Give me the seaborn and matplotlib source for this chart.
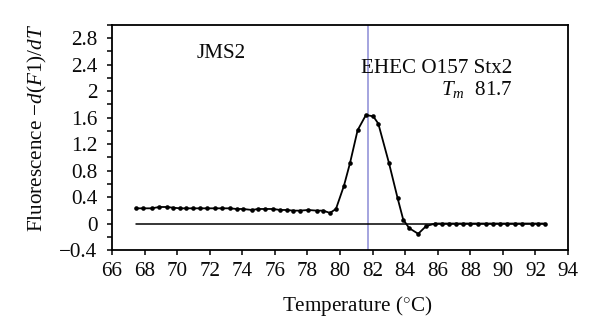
import matplotlib
matplotlib.use("Agg")
import matplotlib.pyplot as plt
import seaborn as sns
import pandas as pd

# Melting-curve derivative for the JMS2 sample (EHEC O157 Stx2 amplicon)
temperature = [
    67.45, 67.92, 68.44, 68.90, 69.36, 69.72, 70.17, 70.54, 70.99, 71.40,
    71.81, 72.32, 72.73, 73.24, 73.65, 74.06, 74.58, 74.98, 75.39, 75.90,
    76.31, 76.72, 77.13, 77.54, 78.05, 78.57, 78.97, 79.38, 79.75, 80.24,
    80.61, 81.08, 81.59, 82.04, 82.35, 83.00, 83.54, 83.88, 84.25, 84.80,
    85.28, 85.83, 86.24, 86.71, 87.12, 87.53, 87.98, 88.49, 88.96, 89.41,
    89.82, 90.27, 90.74, 91.15, 91.76, 92.17, 92.58,
]
neg_dF_dT = [
    0.23, 0.23, 0.23, 0.25, 0.25, 0.24, 0.23, 0.23, 0.23, 0.23,
    0.23, 0.23, 0.23, 0.23, 0.22, 0.22, 0.205, 0.22, 0.22, 0.22,
    0.205, 0.205, 0.195, 0.195, 0.205, 0.195, 0.195, 0.16, 0.22, 0.57,
    0.91, 1.41, 1.64, 1.62, 1.51, 0.92, 0.38, 0.06, -0.07, -0.155,
    -0.04, 0.0, 0.0, 0.0, 0.0, 0.0, 0.0, 0.0, 0.0, 0.0,
    0.0, 0.0, 0.0, 0.0, 0.0, 0.0, 0.0,
]
tm_value = 81.7
sample_name = "JMS2"
target_name = "EHEC O157 Stx2"

x_ticks = list(range(66, 95, 2))
y_major = [-0.4, 0, 0.4, 0.8, 1.2, 1.6, 2, 2.4, 2.8]
y_minor = [-0.2, 0.2, 0.6, 1.0, 1.4, 1.8, 2.2, 2.6, 3.0]

sns.set_style("ticks")
plt.rcParams["font.family"] = ["Liberation Serif", "DejaVu Serif"]
plt.rcParams["mathtext.fontset"] = "custom"
plt.rcParams["mathtext.rm"] = "Liberation Serif"
plt.rcParams["mathtext.it"] = "Liberation Serif:italic"
plt.rcParams["mathtext.bf"] = "Liberation Serif:bold"

FS = 15.2
INK = "#0a0a0a"

df = pd.DataFrame({"T": temperature, "d": neg_dF_dT})
base = pd.DataFrame({"T": [temperature[0], temperature[-1]], "d": [0.0, 0.0]})

fig = plt.figure(figsize=(6.0, 3.35), dpi=100)
ax = fig.add_axes([0.1867, 0.2537, 0.76, 0.6717])

ax.axvline(tm_value, color="#8c8cd6", linewidth=1.1, zorder=1)
sns.lineplot(data=base, x="T", y="d", ax=ax, color="black", linewidth=1.1, zorder=2)
sns.lineplot(data=df, x="T", y="d", ax=ax, color="black", linewidth=1.3,
             marker="o", markersize=3.3, markeredgewidth=0, zorder=3)

ax.set_xlim(66, 94)
ax.set_ylim(-0.4, 3.0)
ax.set_xticks(x_ticks)
ax.set_xticklabels([str(t) for t in x_ticks])
ax.set_yticks(y_major)
ax.set_yticklabels(["\u22120.4", "0", "0.4", "0.8", "1.2", "1.6", "2", "2.4", "2.8"])
ax.set_yticks(y_minor, minor=True)

ax.tick_params(axis="both", which="both", direction="out", length=3.5, width=1.1,
               color="black", labelsize=FS, labelcolor=INK)
ax.tick_params(axis="y", which="major", pad=7)
ax.tick_params(axis="x", which="major", pad=5)

for side in ["top", "right", "bottom", "left"]:
    ax.spines[side].set_visible(True)
    ax.spines[side].set_color("black")
    ax.spines[side].set_linewidth(1.3)

ax.set_xlabel("Temperature ($^{\\circ}$C)", fontsize=FS, color=INK)
ax.set_ylabel("Fluorescence $-d(F1)/dT$", fontsize=FS, color=INK)
ax.xaxis.set_label_coords(0.538, -0.195)
ax.yaxis.set_label_coords(-0.139, 0.544)

ax.text(71.2, 2.57, sample_name, fontsize=FS, ha="left", va="center", color=INK)
ax.text(90.6, 2.34, target_name, fontsize=FS, ha="right", va="center", color=INK)
ax.text(90.6, 2.02, "$T_m$  %.1f" % tm_value, fontsize=FS, ha="right", va="center",
        color=INK)

fig.savefig("out.png", dpi=100)
